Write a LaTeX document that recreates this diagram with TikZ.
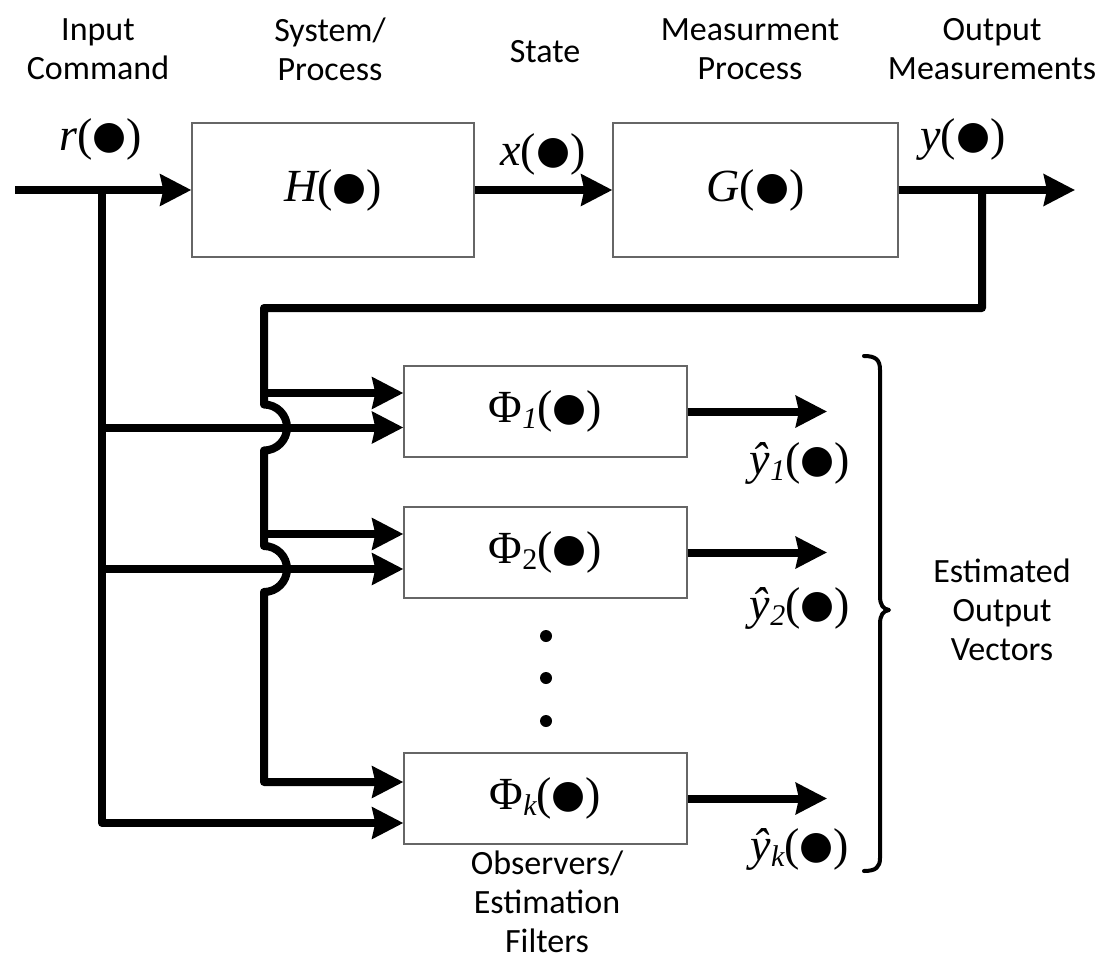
\documentclass[tikz,border=0pt]{standalone}
\usepackage{fontspec}
\setmainfont{Carlito}
\newfontfamily\mathserif{Liberation Serif}
\newfontfamily\dotfont{DejaVu Sans}
\usetikzlibrary{arrows.meta,calc}

% lowered subscript used in the signal names
\newcommand\lowsub[1]{\raisebox{-6pt}{\fontsize{30}{30}\selectfont #1}}
% large argument bullet
\newcommand\argdot{\raisebox{2pt}{\dotfont\fontsize{39}{39}\selectfont ●}}

\begin{document}
\begin{tikzpicture}[x=1pt,y=-1pt,
  wire/.style={line width=8pt, line join=round},
  arr/.style={wire, -{Stealth[length=31pt,width=31pt,inset=3pt]}},
  block/.style={draw=black!60, line width=1.3pt, inner sep=0pt,
    minimum width=283pt, minimum height=91pt,
    font=\mathserif\fontsize{46}{50}\selectfont},
  lbl/.style={font=\fontsize{34}{39}\selectfont, align=center, inner sep=0pt},
  sym/.style={font=\mathserif\fontsize{46}{50}\selectfont, inner sep=0pt, anchor=base},
  brace/.style={line width=4pt, line cap=round, line join=round},
]
\useasboundingbox (0,0) rectangle (1099,963);

% ---- plant: system and measurement blocks
\node[block, minimum width=282pt, minimum height=134pt] (H) at (333,190) {{\itshape H}(\argdot)};
\node[block, minimum width=285pt, minimum height=134pt] (G) at (755.5,190) {{\itshape G}(\argdot)};

% ---- observer bank
\node[block] (P1) at (545.5,411.5) {Φ\lowsub{\itshape 1}(\argdot)};
\node[block] (P2) at (545.5,552.5) {Φ\lowsub{2}(\argdot)};
\node[block] (Pk) at (545.5,798.5) {Φ\lowsub{\itshape k}(\argdot)};

% ---- top captions
\node[lbl] (capin)  at (98,49)   {Input\\Command};
\node[lbl] (capsys) at (330,49)  {System/\\Process};
\node[lbl] (capst)  at (545,52)  {State};
\node[lbl] (capmp)  at (750,49)  {Measurment\\Process};
\node[lbl] (capout) at (992,49)  {Output\\Measurements};

% ---- signal names
\node[sym] (rs) at (101,150) {{\itshape r}(\argdot)};
\node[sym] (xs) at (543,165) {{\itshape x}(\argdot)};
\node[sym] (ys) at (963,150) {{\itshape y}(\argdot)};
\node[sym] (e1) at (800,474) {{\itshape ŷ}\lowsub{\itshape 1}(\argdot)};
\node[sym] (e2) at (800,619) {{\itshape ŷ}\lowsub{\itshape 2}(\argdot)};
\node[sym] (ek) at (800,860) {{\itshape ŷ}\lowsub{\itshape k}(\argdot)};

% ---- bottom and side captions
\node[lbl] (capobs) at (547,902) {Observers/\\Estimation\\Filters};
\node[lbl] (capest) at (1002,610) {Estimated\\Output\\Vectors};

% ---- connection points
\coordinate (src) at (15,190);
\coordinate (jr)  at (102,190);
\coordinate (out) at (1075,190);
\coordinate (jy)  at (982,190);
\coordinate (fb1) at (982,308);
\coordinate (fb2) at (264,308);
\coordinate (p1a) at ($(P1.west)+(0,-18.5)$);
\coordinate (p1b) at ($(P1.west)+(0,16)$);
\coordinate (p2a) at ($(P2.west)+(0,-18.5)$);
\coordinate (p2b) at ($(P2.west)+(0,16.5)$);
\coordinate (pka) at ($(Pk.west)+(0,-16.5)$);
\coordinate (pkb) at ($(Pk.west)+(0,24.5)$);
\coordinate (o1) at (827,411.5);
\coordinate (o2) at (827,552.5);
\coordinate (ok) at (827,798.5);

% ---- forward path
\draw[arr] (src) -- (H.west);
\draw[arr] (H.east) -- (G.west);
\draw[arr] (G.east) -- (out);

% ---- command fed to every observer
\draw[arr] (jr) |- (pkb);
\draw[arr] (jr |- p1b) -- (p1b);
\draw[arr] (jr |- p2b) -- (p2b);

% ---- measurement fed back, hopping over the command lines
\draw[arr] (jy) -- (fb1) -- (fb2)
  -- ($(fb2 |- p1b)+(0,-23)$) arc[start angle=-90, end angle=90, radius=23]
  -- ($(fb2 |- p2b)+(0,-23)$) arc[start angle=-90, end angle=90, radius=23]
  |- (pka);
\draw[arr] (fb2 |- p1a) -- (p1a);
\draw[arr] (fb2 |- p2a) -- (p2a);

% ---- observer outputs
\draw[arr] (P1.east) -- (o1);
\draw[arr] (P2.east) -- (o2);
\draw[arr] (Pk.east) -- (ok);

% ---- vertical ellipsis between the observers
\fill (546,636) circle[radius=6];
\fill (546,678) circle[radius=6];
\fill (546,721) circle[radius=6];

% ---- brace grouping the estimates
\draw[brace] (864,356) .. controls (876,356) and (880,360) .. (880,370)
  -- (880,596) .. controls (880,605) and (883,609) .. (889,610)
  .. controls (883,611) and (880,615) .. (880,624)
  -- (880,858) .. controls (880,867) and (876,871) .. (864,871);
\end{tikzpicture}
\end{document}
